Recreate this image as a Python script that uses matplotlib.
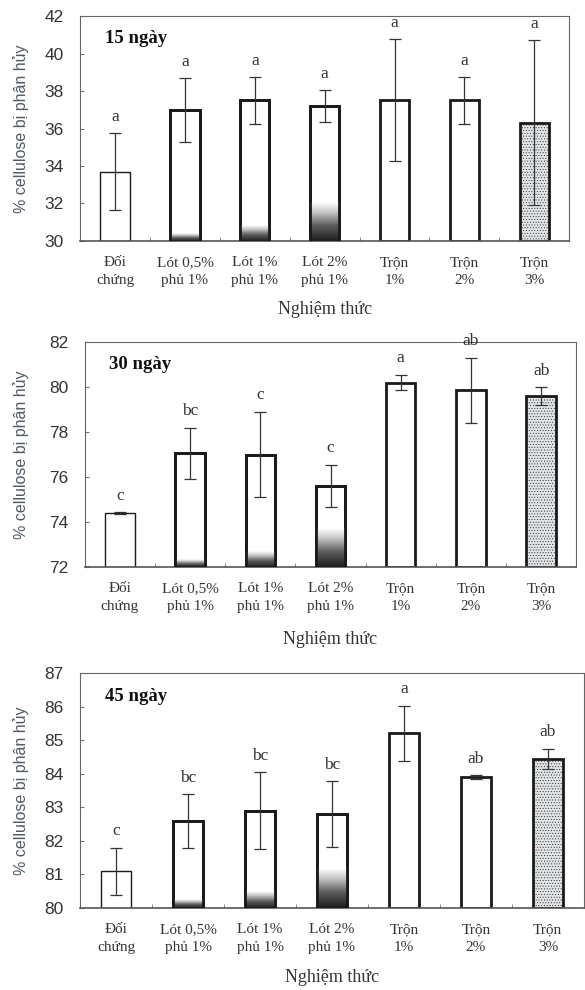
import matplotlib
matplotlib.use("Agg")
import matplotlib.pyplot as plt
import matplotlib.colors as mcolors
import numpy as np

categories = ["Đối\nchứng", "Lót 0,5%\nphủ 1%", "Lót 1%\nphủ 1%", "Lót 2%\nphủ 1%",
              "Trộn\n1%", "Trộn\n2%", "Trộn\n3%"]

days = ["15 ngày", "30 ngày", "45 ngày"]

mean_15 = [33.7, 37.0, 37.5, 37.2, 37.5, 37.5, 36.3]
err_15 = [2.05, 1.7, 1.25, 0.85, 3.25, 1.25, 4.4]
letters_15 = ["a", "a", "a", "a", "a", "a", "a"]

mean_30 = [74.4, 77.05, 77.0, 75.6, 80.2, 79.85, 79.6]
err_30 = [0.05, 1.15, 1.9, 0.95, 0.35, 1.45, 0.38]
letters_30 = ["c", "bc", "c", "c", "a", "ab", "ab"]

mean_45 = [81.1, 82.6, 82.9, 82.8, 85.2, 83.9, 84.45]
err_45 = [0.7, 0.8, 1.15, 0.97, 0.83, 0.06, 0.3]
letters_45 = ["c", "bc", "bc", "bc", "a", "ab", "ab"]

yticks_15 = [30, 32, 34, 36, 38, 40, 42]
yticks_30 = [72, 74, 76, 78, 80, 82]
yticks_45 = [80, 81, 82, 83, 84, 85, 86, 87]

panels = [
    (mean_15, err_15, letters_15, yticks_15, [0.137, 0.7566, 0.836, 0.2272], 10),
    (mean_30, err_30, letters_30, yticks_30, [0.145, 0.4273, 0.840, 0.2272], 13),
    (mean_45, err_45, letters_45, yticks_45, [0.137, 0.0828, 0.861, 0.2374], 11),
]

serif = "Liberation Serif"
sans = "Liberation Sans"

plt.rcParams["hatch.color"] = "#c9cdd0"
plt.rcParams["hatch.linewidth"] = 0.35

# dark band at bottom of the "Lót" bars (fraction of axes height)
shade = [0, 0.035, 0.07, 0.17, 0, 0, 0]
edge_w = [1.0, 2.0, 2.0, 2.0, 2.0, 2.0, 2.0]
fills = ["white"] * 6 + ["#e2e5e7"]

grad_cmap = mcolors.LinearSegmentedColormap.from_list(
    "g", [(0, "#1e1e1e"), (0.4, "#5e5e5e"), (0.75, "#c8c8c8"), (1, "white")])

fig = plt.figure(figsize=(5.85, 9.9), dpi=100)

for (means, errs, lets, yt, rect, lpad), title in zip(panels, days):
    ax = fig.add_axes(rect)
    x = np.arange(len(categories))
    ax.set_xlim(-0.5, len(categories) - 0.5)
    ax.set_ylim(yt[0], yt[-1])
    ymin, ymax = yt[0], yt[-1]

    bars = ax.bar(x, np.array(means) - ymin, bottom=ymin, width=0.42,
                  color=fills, edgecolor="#1a1a1a", zorder=2)
    for b, lw in zip(bars, edge_w):
        b.set_linewidth(lw)
    bars[-1].set_hatch("......")

    for i, b in enumerate(bars):
        if shade[i] > 0:
            h = shade[i] * (ymax - ymin)
            grad = np.linspace(0, 1, 100).reshape(-1, 1)
            im = ax.imshow(grad, cmap=grad_cmap, aspect="auto", origin="lower",
                           extent=[x[i] - 0.21, x[i] + 0.21, ymin, ymin + h],
                           zorder=2.5)
            im.set_clip_path(b)
            # re-draw the edge on top
            ax.bar(x[i], means[i] - ymin, bottom=ymin, width=0.42, fill=False,
                   edgecolor="#1a1a1a", linewidth=edge_w[i], zorder=3)

    ax.errorbar(x, means, yerr=errs, fmt="none", ecolor="#333333",
                elinewidth=0.9, capsize=4, capthick=0.9, zorder=4)

    for xi, m, e, t in zip(x, means, errs, lets):
        ax.annotate(t, xy=(xi, m + e), xytext=(0, 6), textcoords="offset points",
                    ha="center", va="bottom", fontsize=12.5, family=serif,
                    color="#333333", annotation_clip=False)

    ax.text(0.05, 0.90, title, transform=ax.transAxes, fontsize=13.5,
            fontweight="bold", family=serif, color="#111111", va="center")

    ax.set_yticks(yt)
    ax.set_yticklabels([str(v) for v in yt], fontsize=12.5, family=sans,
                       color="#333333")
    ax.tick_params(axis="y", direction="in", length=3, pad=12, color="#777777")
    ax.set_xticks(x)
    ax.set_xticklabels(categories, fontsize=11, family=serif, color="#333333",
                       linespacing=1.45)
    ax.tick_params(axis="x", which="major", length=0, pad=11)
    ax.set_xticks(np.arange(len(categories) - 1) + 0.5, minor=True)
    ax.tick_params(axis="x", which="minor", direction="in", length=3,
                   color="#777777")
    ax.set_xlabel("Nghiệm thức", fontsize=13, family=serif, color="#333333",
                  labelpad=lpad)

    for s in ["top", "right", "left"]:
        ax.spines[s].set_color("#666666")
        ax.spines[s].set_linewidth(0.8)
    ax.spines["bottom"].set_color("#555555")
    ax.spines["bottom"].set_linewidth(1.2)

    fig.text(0.036, rect[1] + rect[3] / 2, "% cellulose bị phân hủy",
             rotation=90, ha="center", va="center", fontsize=11.5,
             family=sans, color="#4f5a66")

fig.savefig("out.png", dpi=100)
